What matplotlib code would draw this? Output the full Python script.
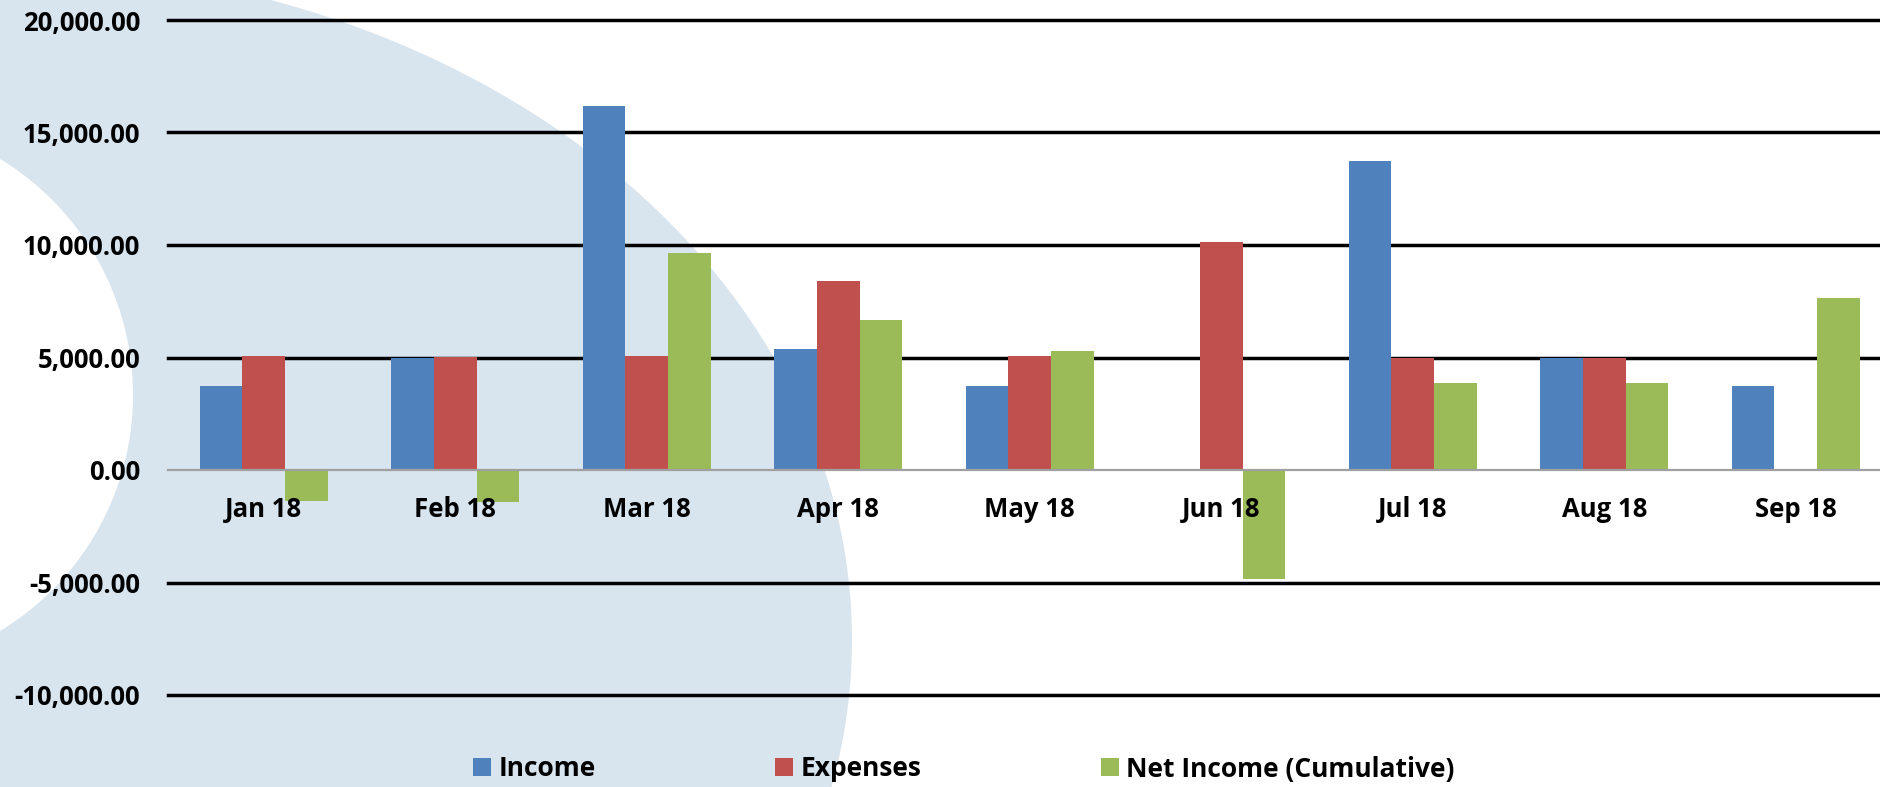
import matplotlib
matplotlib.use("Agg")
import matplotlib.pyplot as plt
from matplotlib.patches import Ellipse, Circle
from matplotlib.ticker import FuncFormatter
import numpy as np

months = ["Jan 18", "Feb 18", "Mar 18", "Apr 18", "May 18", "Jun 18", "Jul 18", "Aug 18", "Sep 18"]
income = [3730, 5000, 16175, 5370, 3730, 0, 13745, 5000, 3730]
expenses = [5075, 5030, 5075, 8420, 5050, 10150, 5000, 5000, 0]
net_cumulative = [-1375, -1435, 9665, 6660, 5300, -4855, 3880, 3880, 7630]
series_names = ["Income", "Expenses", "Net Income (Cumulative)"]
y_ticks = [-10000, -5000, 0, 5000, 10000, 15000, 20000]

plt.rcParams["font.family"] = ["Open Sans", "DejaVu Sans"]
plt.rcParams["font.weight"] = "bold"

W, H = 1880, 787
fig = plt.figure(figsize=(W / 100, H / 100), dpi=100)

# decorative background
bg = fig.add_axes([0, 0, 1, 1], zorder=0)
bg.set_xlim(0, W)
bg.set_ylim(H, 0)
bg.axis("off")
bg.add_patch(Ellipse((0, 640), 2 * 852, 2 * 675, facecolor="#D8E4EE", edgecolor="none"))
bg.add_patch(Circle((-143, 395), 276, facecolor="white", edgecolor="none"))

ax = fig.add_axes([168 / W, (H - 695) / H, (1891.5 - 168) / W, 675 / H], zorder=1)
ax.patch.set_alpha(0)

x = np.arange(len(months))
w = 1 / 4.5
colors = ["#4F81BD", "#C0504D", "#9BBB59"]
b1 = ax.bar(x - w, income, w, color=colors[0], label=series_names[0], zorder=1.2)
b2 = ax.bar(x, expenses, w, color=colors[1], label=series_names[1], zorder=1.2)
b3 = ax.bar(x + w, net_cumulative, w, color=colors[2], label=series_names[2], zorder=1.2)

ax.set_xlim(-0.5, len(months) - 0.5)
ax.set_ylim(y_ticks[0], y_ticks[-1])
ax.set_yticks(y_ticks)
ax.yaxis.set_major_formatter(FuncFormatter(lambda v, p: f"{v:,.2f}"))
for v in y_ticks:
    if v != 0:
        ax.axhline(v, color="black", lw=2.5, zorder=1.0, clip_on=False)

for s in ["top", "right", "left"]:
    ax.spines[s].set_visible(False)
ax.spines["bottom"].set_position(("data", 0))
ax.spines["bottom"].set_color("#A0A0A0")
ax.spines["bottom"].set_linewidth(1.6)
ax.spines["bottom"].set_zorder(2.5)

ax.set_xticks(x)
ax.set_xticklabels(months)
ax.tick_params(axis="x", length=0, pad=19, labelsize=18.5)
ax.tick_params(axis="y", length=0, pad=20, labelsize=18.5)
for lab in ax.get_xticklabels() + ax.get_yticklabels():
    lab.set_fontweight("bold")

fig.legend(handles=[b1, b2, b3], labels=series_names, loc="center",
           bbox_to_anchor=(964 / W, 1 - 769 / H), ncol=3, frameon=False,
           handlelength=0.68, handleheight=0.68, handletextpad=0.28,
           columnspacing=6.8, prop={"weight": "bold", "size": 19})

fig.savefig("out.png", dpi=100)
